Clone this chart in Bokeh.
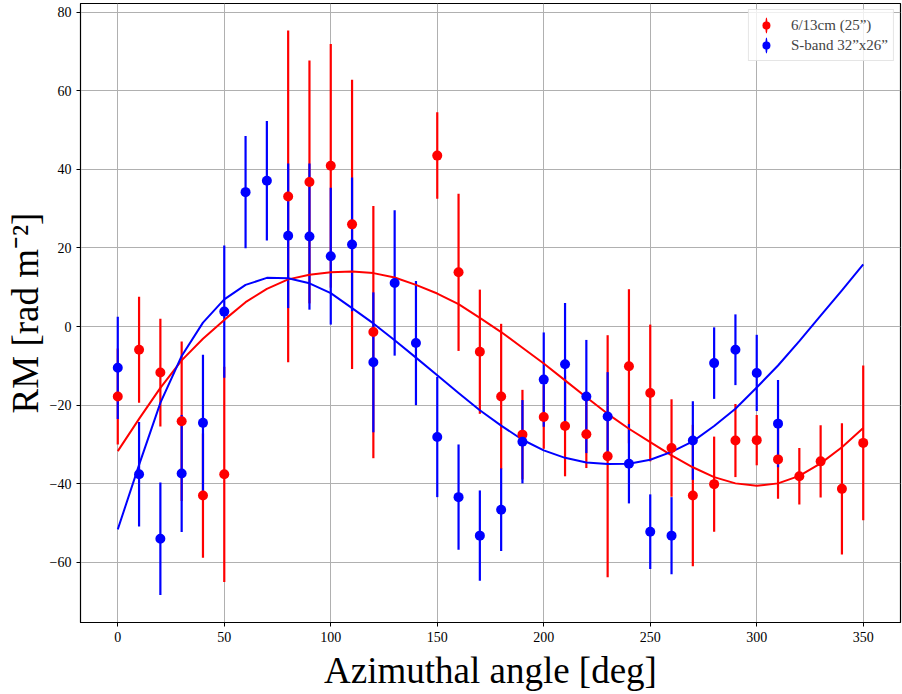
from bokeh.plotting import figure
from bokeh.models import Range1d, ColumnDataSource, Legend, LegendItem, CustomJSTickFormatter, FixedTicker
from bokeh.embed import file_html
from bokeh.resources import INLINE

# ---- data ----
angles_red = [0, 10, 20, 30, 40, 50, 80, 90, 100, 110, 120, 150, 160, 170, 180, 190,
              200, 210, 220, 230, 240, 250, 260, 270, 280, 290, 300, 310, 320, 330, 340, 350]
rm_red = [-17.8, -5.9, -11.7, -24.1, -43.0, -37.6, 33.1, 36.8, 40.9, 26.0, -1.4, 43.5, 13.8, -6.4, -17.8, -27.5,
          -23.0, -25.3, -27.4, -33.0, -10.1, -16.9, -30.9, -43.0, -40.1, -29.0, -28.9, -33.8, -38.1, -34.3, -41.3, -29.6]
err_red = [12.2, 13.5, 13.7, 20.3, 15.8, 27.4, 42.2, 30.9, 31.0, 36.8, 32.1, 11.0, 20.0, 15.8, 18.5, 11.4,
           8.1, 12.8, 8.6, 30.8, 19.6, 17.4, 12.4, 18.0, 12.1, 9.3, 6.4, 10.0, 7.2, 9.2, 16.7, 19.7]

angles_blue = [0, 10, 20, 30, 40, 50, 60, 70, 80, 90, 100, 110, 120, 130, 140, 150,
               160, 170, 180, 190, 200, 210, 220, 230, 240, 250, 260, 270, 280, 290, 300, 310]
rm_blue = [-10.5, -37.6, -54.0, -37.4, -24.5, 3.8, 34.2, 37.1, 23.1, 22.9, 17.9, 20.9, -9.1, 11.1, -4.2, -28.1,
           -43.4, -53.2, -46.6, -29.3, -13.5, -9.6, -17.8, -22.9, -34.9, -52.2, -53.2, -29.0, -9.3, -5.9, -11.8, -24.7]
err_blue = [13.0, 13.3, 14.3, 14.9, 17.3, 16.8, 14.3, 15.2, 18.4, 18.6, 17.4, 17.0, 17.8, 18.5, 15.8, 15.3,
            13.4, 11.5, 10.5, 10.6, 12.0, 15.6, 14.4, 11.3, 10.1, 9.5, 9.8, 10.0, 9.1, 9.0, 9.7, 11.1]

# fitted curves, every 10 degrees
fit_angles = [0, 10, 20, 30, 40, 50, 60, 70, 80, 90, 100, 110, 120, 130, 140, 150, 160, 170,
              180, 190, 200, 210, 220, 230, 240, 250, 260, 270, 280, 290, 300, 310, 320, 330, 340, 350]
fit_red = [-31.7, -23.5, -15.6, -8.6, -3.1, 1.7, 6.2, 9.6, 12.0, 13.2, 13.8, 14.0, 13.6, 12.5, 10.6, 8.4, 5.7, 2.2,
           -1.4, -5.4, -9.4, -13.7, -18.0, -22.2, -26.0, -29.4, -32.8, -35.8, -38.3, -39.9, -40.5, -39.9, -38.0, -34.8, -30.7, -25.8]
fit_blue = [-51.6, -35.2, -19.4, -7.5, 1.0, 6.9, 10.6, 12.4, 12.3, 11.0, 8.5, 4.7, 0.8, -3.5, -7.9, -12.4, -16.9, -21.3,
            -25.2, -28.8, -31.5, -33.4, -34.6, -35.0, -34.9, -33.9, -31.9, -29.2, -25.3, -20.9, -15.5, -9.9, -3.7, 2.8, 9.2, 15.8]

x_ticks = [0, 50, 100, 150, 200, 250, 300, 350]
y_ticks = [-60, -40, -20, 0, 20, 40, 60, 80]

label_red = "6/13cm (25\u201d)"
label_blue = "S-band 32\u201dx26\u201d"
x_label = "Azimuthal angle [deg]"
y_label = "RM [rad m\u207b\u00b2]"

RED = "#ff0000"
BLUE = "#0000ff"

src_red = ColumnDataSource(dict(x=angles_red, y=rm_red,
                                lo=[v - e for v, e in zip(rm_red, err_red)],
                                hi=[v + e for v, e in zip(rm_red, err_red)]))
src_blue = ColumnDataSource(dict(x=angles_blue, y=rm_blue,
                                 lo=[v - e for v, e in zip(rm_blue, err_blue)],
                                 hi=[v + e for v, e in zip(rm_blue, err_blue)]))
src_fit = ColumnDataSource(dict(x=fit_angles, r=fit_red, b=fit_blue))

p = figure(width=902, height=694, output_backend="svg", toolbar_location=None,
           x_range=Range1d(-17.5, 367.5), y_range=Range1d(-75.3, 82.2),
           min_border_left=80, min_border_right=2, min_border_top=3, min_border_bottom=72)

p.background_fill_color = "white"
p.border_fill_color = "white"
p.outline_line_color = "black"
p.outline_line_width = 1.2

# error bars
p.segment(x0="x", y0="lo", x1="x", y1="hi", source=src_red, line_color=RED, line_width=2.2)
ell_red = p.ellipse(x=[angles_red[0]], y=[rm_red[0]], width=2.2, height=16,
                    width_units="screen", height_units="screen",
                    fill_color=RED, line_alpha=0)
p.segment(x0="x", y0="lo", x1="x", y1="hi", source=src_blue, line_color=BLUE, line_width=2.2)
ell_blue = p.ellipse(x=[angles_blue[0]], y=[rm_blue[0]], width=2.2, height=16,
                     width_units="screen", height_units="screen",
                     fill_color=BLUE, line_alpha=0)

# fits
p.line(x="x", y="r", source=src_fit, line_color=RED, line_width=2, line_join="round")
p.line(x="x", y="b", source=src_fit, line_color=BLUE, line_width=2, line_join="round")

# markers
sc_red = p.scatter(x="x", y="y", source=src_red, size=10, fill_color=RED, line_color=RED, line_width=0)
sc_blue = p.scatter(x="x", y="y", source=src_blue, size=10, fill_color=BLUE, line_color=BLUE, line_width=0)

# axes
for ax in (p.xaxis[0], p.yaxis[0]):
    ax.axis_line_color = "black"
    ax.major_tick_line_color = "black"
    ax.major_tick_out = 4
    ax.major_tick_in = 0
    ax.minor_tick_line_color = None
    ax.major_label_text_font = "Liberation Serif"
    ax.major_label_text_font_size = "14px"
    ax.major_label_text_color = "black"
    ax.axis_label_text_font = "Liberation Serif"
    ax.axis_label_text_font_size = "37px"
    ax.axis_label_text_font_style = "normal"
    ax.axis_label_text_color = "black"
    ax.major_label_standoff = 5

p.xaxis.axis_label_standoff = 5
p.yaxis.axis_label_standoff = 1

p.xaxis.ticker = FixedTicker(ticks=x_ticks)
p.yaxis.ticker = FixedTicker(ticks=y_ticks)
p.yaxis.formatter = CustomJSTickFormatter(code="return tick < 0 ? '\u2212' + Math.abs(tick) : String(tick);")
p.xaxis.axis_label = x_label
p.yaxis.axis_label = y_label

p.grid.grid_line_color = "#b0b0b0"
p.grid.grid_line_width = 1
p.xgrid.ticker = FixedTicker(ticks=x_ticks)
p.ygrid.ticker = FixedTicker(ticks=y_ticks)

legend = Legend(items=[LegendItem(label=label_red, renderers=[ell_red, sc_red]),
                       LegendItem(label=label_blue, renderers=[ell_blue, sc_blue])],
                location="top_right")
legend.border_line_color = "#cccccc"
legend.border_line_width = 1
legend.background_fill_color = "white"
legend.background_fill_alpha = 0.8
legend.label_text_font = "Liberation Serif"
legend.label_text_font_size = "15px"
legend.glyph_width = 24
legend.glyph_height = 20
legend.label_height = 20
legend.spacing = 0
legend.padding = 5
legend.margin = 6
legend.label_standoff = 13
p.add_layout(legend)

with open("out.html", "w", encoding="utf-8") as f:
    f.write(file_html(p, INLINE))
